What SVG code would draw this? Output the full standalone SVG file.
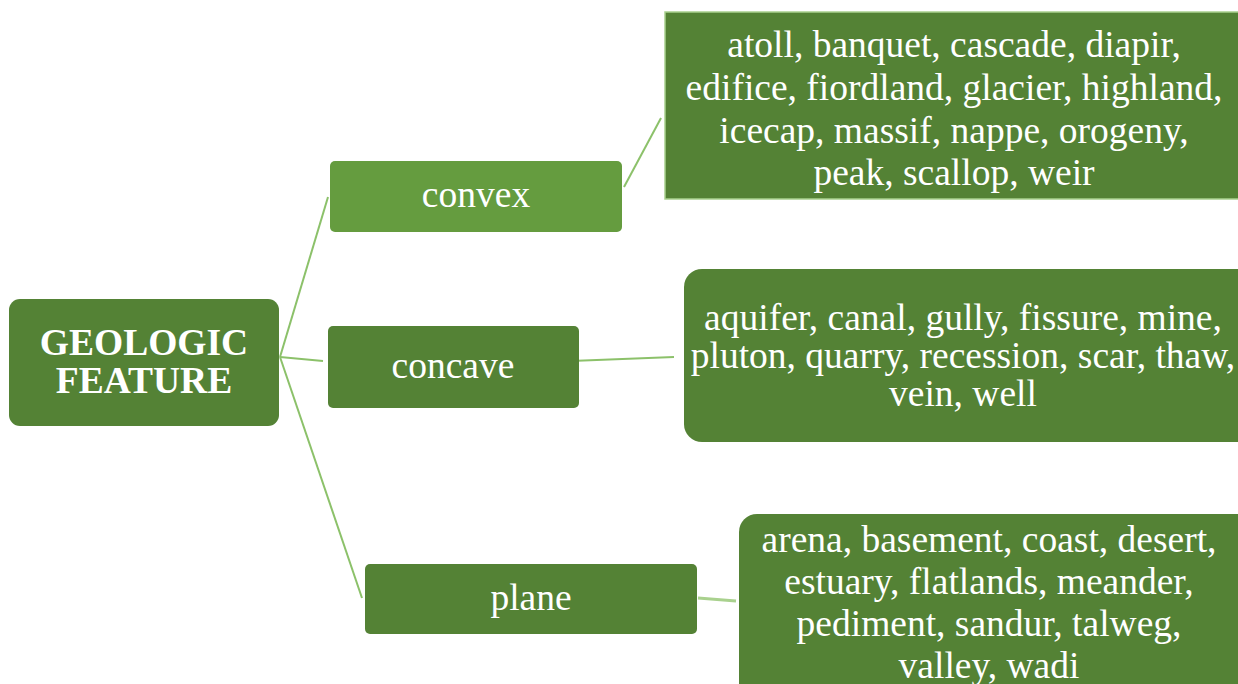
<svg xmlns="http://www.w3.org/2000/svg" width="1238" height="684" viewBox="0 0 1238 684">
  <style>
    .node { fill: #548235; }
    .light { fill: #659c3f; }
    .edge { stroke: #8cc16a; stroke-width: 2; fill: none; }
    .edge2 { stroke: #a9d18e; stroke-width: 3; fill: none; }
    .frame { stroke: #a9d18e; stroke-width: 1.5; }
  </style>
  <rect width="1238" height="684" fill="#ffffff"/>

  <g id="connectors">
    <line class="edge" x1="280" y1="357" x2="328" y2="197"/>
    <line class="edge" x1="280" y1="357" x2="323" y2="361"/>
    <line class="edge" x1="280" y1="357" x2="362" y2="598"/>
    <line class="edge" x1="624" y1="187" x2="661" y2="118"/>
    <line class="edge" x1="571" y1="361" x2="674" y2="357"/>
    <line class="edge2" x1="698" y1="598" x2="736" y2="601"/>
  </g>

  <g font-family="Liberation Serif, serif" font-size="37.5" fill="#ffffff" text-anchor="middle">
    <g id="root">
      <rect class="node" x="9" y="299" width="270" height="127" rx="11"/>
      <text x="144" y="355" font-weight="bold">GEOLOGIC</text>
      <text x="144" y="393" font-weight="bold">FEATURE</text>
    </g>

    <g id="convex">
      <rect class="light" x="330" y="161" width="292" height="71" rx="5"/>
      <text x="476" y="207">convex</text>
    </g>

    <g id="concave">
      <rect class="node" x="328" y="326" width="251" height="82" rx="5"/>
      <text x="453" y="378">concave</text>
    </g>

    <g id="plane">
      <rect class="node" x="365" y="564" width="332" height="70" rx="5"/>
      <text x="531" y="610">plane</text>
    </g>

    <g id="convex-list">
      <rect class="node frame" x="665" y="12" width="580" height="187"/>
      <text x="954" y="57">atoll, banquet, cascade, diapir,</text>
      <text x="954" y="100">edifice, fiordland, glacier, highland,</text>
      <text x="954" y="143">icecap, massif, nappe, orogeny,</text>
      <text x="954" y="185">peak, scallop, weir</text>
    </g>

    <g id="concave-list">
      <rect class="node" x="684" y="269" width="580" height="173" rx="18"/>
      <text x="963" y="330">aquifer, canal, gully, fissure, mine,</text>
      <text x="963" y="368">pluton, quarry, recession, scar, thaw,</text>
      <text x="963" y="406">vein, well</text>
    </g>

    <g id="plane-list">
      <rect class="node" x="739" y="514" width="520" height="190" rx="18"/>
      <text x="989" y="552">arena, basement, coast, desert,</text>
      <text x="989" y="594">estuary, flatlands, meander,</text>
      <text x="989" y="636">pediment, sandur, talweg,</text>
      <text x="989" y="678">valley, wadi</text>
    </g>
  </g>
</svg>
